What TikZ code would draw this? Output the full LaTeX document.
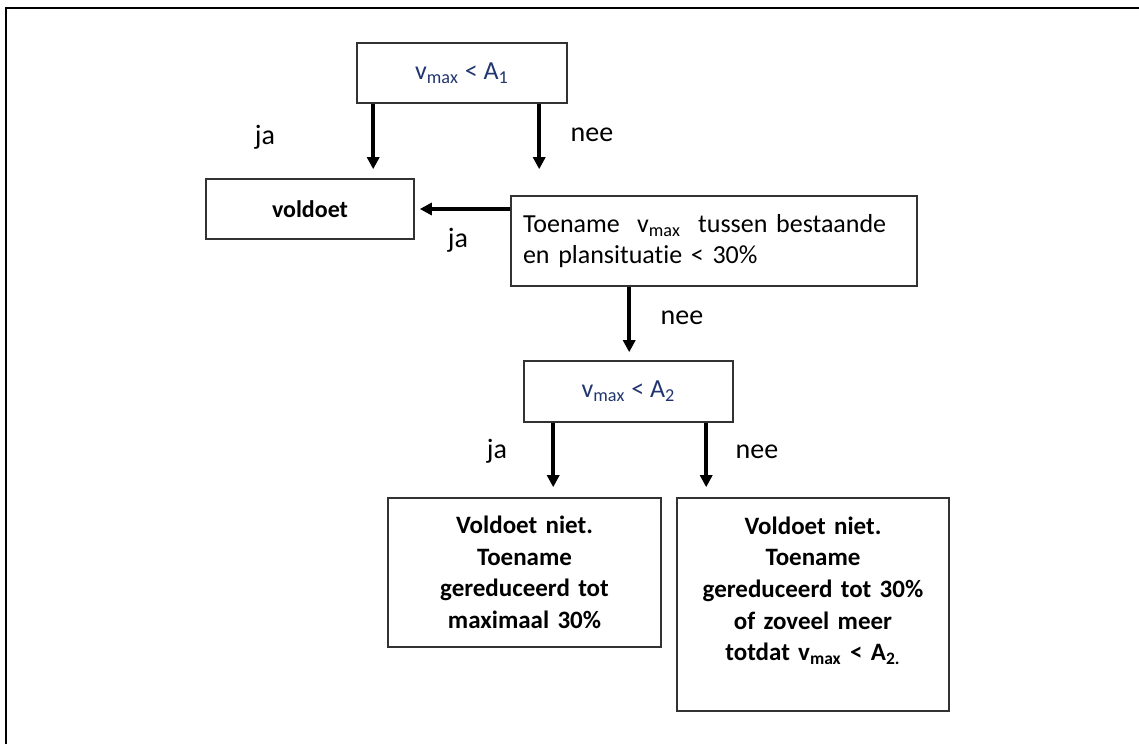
\documentclass[tikz,border=0pt]{standalone}
\usepackage{fontspec}
\setmainfont{Carlito}[Ligatures=NoCommon]
\usetikzlibrary{arrows.meta,calc}
\definecolor{vmaxblue}{RGB}{32,52,110}
\definecolor{boxgray}{RGB}{50,50,50}
\tikzset{
  box/.style={draw=boxgray, line width=0.8pt, inner sep=6pt},
  vraag/.style={box, text=vmaxblue, font=\fontsize{13}{15}\selectfont},
  uitkomst/.style={box, inner xsep=4pt, align=center, font=\bfseries\fontsize{12.5}{15.8}\selectfont},
  pijl/.style={line width=2.2pt, -{Triangle[length=6pt,width=6pt]}},
  antw/.style={font=\fontsize{14}{16}\selectfont}
}
\begin{document}
\begin{tikzpicture}[x=0.5pt,y=-0.5pt]
      \useasboundingbox (0,0) rectangle (1139,744);
      \draw[line width=0.75pt] (6,744) -- (6,8) -- (1139,8);

      \node[vraag, minimum width=105pt, minimum height=30pt] (vA) at (462,73) {v\textsubscript{max} < A\textsubscript{1}};
      \node[box, minimum width=104pt, minimum height=30pt, font=\bfseries\fontsize{12}{14}\selectfont] (voldoet) at (310,209) {voldoet};
      \node[box, text width=191pt, minimum height=45pt, align=left, font=\fontsize{13}{15.5}\selectfont] (toename) at (714,241) {Toename~~v\textsubscript{max}~~tussen bestaande\\en plansituatie < 30\%};
      \node[vraag, minimum width=104.5pt, minimum height=30.5pt] (vB) at (628.5,391.5) {v\textsubscript{max} < A\textsubscript{2}};
      \node[uitkomst, text width=128.5pt, minimum height=74.5pt] (niet1) at (524.5,572.5) {Voldoet niet.\\Toename\\gereduceerd tot\\maximaal 30\%};
      \node[uitkomst, text width=128pt, minimum height=106.5pt] (niet2) at (813,604.5) {Voldoet niet.\\Toename\\gereduceerd tot 30\%\\of zoveel meer\\totdat v\textsubscript{max} < A\textsubscript{2.}\\ \mbox{}};

      \coordinate (jaA) at ($(vA.south west)+(17,0)$);
      \coordinate (neeA) at ($(vA.south west)+(183,0)$);
      \coordinate (neeT) at ($(toename.south west)+(119,0)$);
      \coordinate (jaB) at ($(vB.south west)+(30,0)$);
      \coordinate (neeB) at ($(vB.south west)+(183,0)$);

      \draw[pijl, shorten >=4.5pt] (jaA) -- (jaA |- voldoet.north);
      \draw[pijl, shorten >=13pt] (neeA) -- (neeA |- toename.north);
      \draw[pijl, shorten >=2.5pt] (toename.west |- voldoet.east) -- (voldoet.east);
      \draw[pijl, shorten >=4pt] (neeT) -- (neeT |- vB.north);
      \draw[pijl, shorten >=5pt] (jaB) -- (jaB |- niet1.north);
      \draw[pijl, shorten >=5pt] (neeB) -- (neeB |- niet2.north);

      \node[antw] (ja1) at (265,137) {ja};
      \node[antw] (nee1) at (592,135) {nee};
      \node[antw] (ja2) at (458,240) {ja};
      \node[antw] (nee2) at (682,318) {nee};
      \node[antw] (ja3) at (497,451) {ja};
      \node[antw] (nee3) at (757,452) {nee};
\end{tikzpicture}
\end{document}
